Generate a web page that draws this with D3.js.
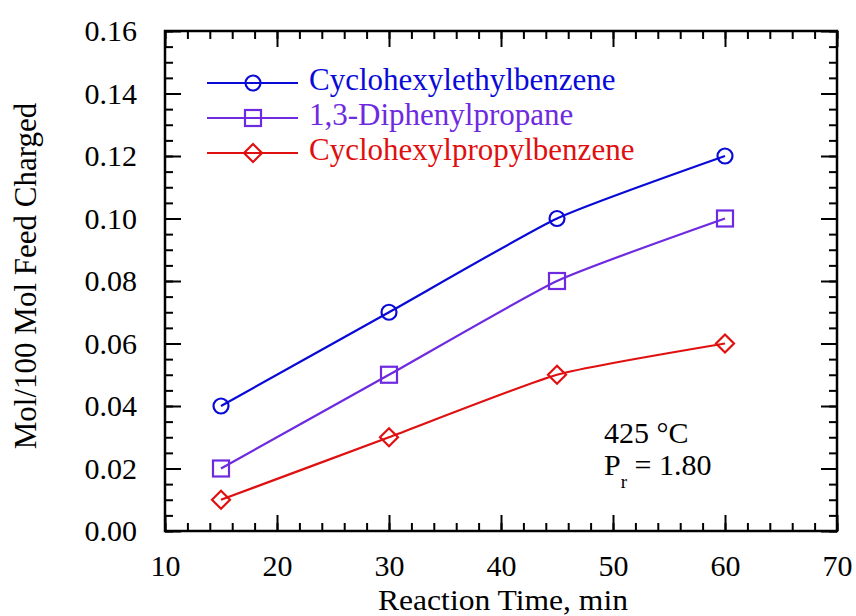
<!DOCTYPE html>
<html><head><meta charset="utf-8">
<script src="https://cdn.jsdelivr.net/npm/d3@7/dist/d3.min.js"></script>
<style>body{margin:0;background:#fff}</style>
</head><body>
<script>
const times = [15, 30, 45, 60];
const seriesNames = ["Cyclohexylethylbenzene", "1,3-Diphenylpropane", "Cyclohexylpropylbenzene"];
const cheb = [0.040, 0.070, 0.100, 0.120];
const dpp = [0.020, 0.050, 0.080, 0.100];
const chpb = [0.010, 0.030, 0.050, 0.060];
const xTicks = [10, 20, 30, 40, 50, 60, 70];
const yTicks = [0.00, 0.02, 0.04, 0.06, 0.08, 0.10, 0.12, 0.14, 0.16];
const colors = ["#0a0ad8", "#6e2ae0", "#e01010"];
const symbols = ["circle", "square", "diamond"];
const seriesVals = [cheb, dpp, chpb];

const W = 856, H = 616;
const m = {l: 165, r: 856 - 837, t: 31, b: 616 - 531};
const font = "Liberation Serif";
const FS = 30;
const svg = d3.select("body").append("svg").attr("width", W).attr("height", H)
  .style("font-family", font);

const x = d3.scaleLinear().domain([10, 70]).range([m.l, W - m.r]);
const y = d3.scaleLinear().domain([0, 0.16]).range([H - m.b, m.t]);

const minorX = d3.range(10, 70.01, 2);
const minorY = d3.range(0, 0.1601, 0.005);

function drawAxis(axisGen, transform, labels) {
  const g = svg.append("g").attr("transform", transform).call(axisGen);
  g.select(".domain").remove();
  g.selectAll("line").attr("stroke", "#000").attr("stroke-width", 2);
  if (!labels) g.selectAll("text").remove();
  return g;
}
// minor ticks
drawAxis(d3.axisBottom(x).tickValues(minorX).tickSizeInner(-8).tickSizeOuter(0), `translate(0,${H - m.b})`, false);
drawAxis(d3.axisTop(x).tickValues(minorX).tickSizeInner(-8).tickSizeOuter(0), `translate(0,${m.t})`, false);
drawAxis(d3.axisLeft(y).tickValues(minorY).tickSizeInner(-8).tickSizeOuter(0), `translate(${m.l},0)`, false);
drawAxis(d3.axisRight(y).tickValues(minorY).tickSizeInner(-8).tickSizeOuter(0), `translate(${W - m.r},0)`, false);
// major ticks
const gx = drawAxis(d3.axisBottom(x).tickValues(xTicks).tickSizeInner(-16).tickSizeOuter(0).tickPadding(27).tickFormat(d3.format("d")), `translate(0,${H - m.b})`, true);
drawAxis(d3.axisTop(x).tickValues(xTicks).tickSizeInner(-16).tickSizeOuter(0), `translate(0,${m.t})`, false);
const gy = drawAxis(d3.axisLeft(y).tickValues(yTicks).tickSizeInner(-16).tickSizeOuter(0).tickPadding(28).tickFormat(d3.format(".2f")), `translate(${m.l},0)`, true);
drawAxis(d3.axisRight(y).tickValues(yTicks).tickSizeInner(-16).tickSizeOuter(0), `translate(${W - m.r},0)`, false);
[gx, gy].forEach(g => g.selectAll("text").attr("font-family", font).attr("font-size", FS).attr("fill", "#000"));
gx.selectAll("text").attr("dy", null).attr("dominant-baseline", null).attr("y", 45);
gy.selectAll("text").attr("dy", "0.33em");

// frame
svg.append("rect").attr("x", m.l).attr("y", m.t).attr("width", W - m.r - m.l).attr("height", H - m.b - m.t)
  .attr("fill", "none").attr("stroke", "#000").attr("stroke-width", 2.5);

// axis titles
svg.append("text").attr("x", (m.l + W - m.r) / 2 + 2).attr("y", 610).attr("text-anchor", "middle")
  .attr("font-size", 30).attr("textLength", 250).attr("lengthAdjust", "spacingAndGlyphs").text("Reaction Time, min");
svg.append("text").attr("transform", `translate(36,${(m.t + H - m.b) / 2 - 5}) rotate(-90)`)
  .attr("text-anchor", "middle").attr("font-size", 31).text("Mol/100 Mol Feed Charged");

function marker(g, type, cx, cy, color) {
  const s = 8;
  if (type === "circle") g.append("circle").attr("cx", cx).attr("cy", cy).attr("r", s - 0.5);
  else if (type === "square") g.append("rect").attr("x", cx - s).attr("y", cy - s).attr("width", 2 * s).attr("height", 2 * s);
  else g.append("path").attr("d", `M${cx},${cy - s - 1}L${cx + s + 1},${cy}L${cx},${cy + s + 1}L${cx - s - 1},${cy}Z`);
  g.selectAll("*").attr("fill", "none").attr("stroke", color).attr("stroke-width", 2.2);
}

const line = d3.line().x(d => x(d[0])).y(d => y(d[1])).curve(d3.curveCardinal.tension(0.5));
seriesVals.forEach((vals, i) => {
  const pts = times.map((t, j) => [t, vals[j]]);
  svg.append("path").datum(pts).attr("d", line).attr("fill", "none")
    .attr("stroke", colors[i]).attr("stroke-width", 2.2);
  pts.forEach(p => marker(svg.append("g"), symbols[i], x(p[0]), y(p[1]), colors[i]));
});

// legend
const legY = [83, 118, 153];
seriesNames.forEach((name, i) => {
  const g = svg.append("g");
  g.append("line").attr("x1", 207).attr("x2", 298).attr("y1", legY[i]).attr("y2", legY[i])
    .attr("stroke", colors[i]).attr("stroke-width", 2.2);
  marker(g.append("g"), symbols[i], 253, legY[i], colors[i]);
  svg.append("text").attr("x", 309).attr("y", legY[i] + 7).attr("font-size", 31)
    .attr("fill", colors[i]).text(name);
});

// annotation
svg.append("text").attr("x", 604).attr("y", 443).attr("font-size", FS).text("425 °C");
const pr = svg.append("text").attr("x", 604).attr("y", 475).attr("font-size", FS);
pr.append("tspan").text("P");
pr.append("tspan").attr("font-size", 19).attr("dy", 13).text("r");
pr.append("tspan").attr("dy", -13).text(" = 1.80");
</script>
</body></html>
